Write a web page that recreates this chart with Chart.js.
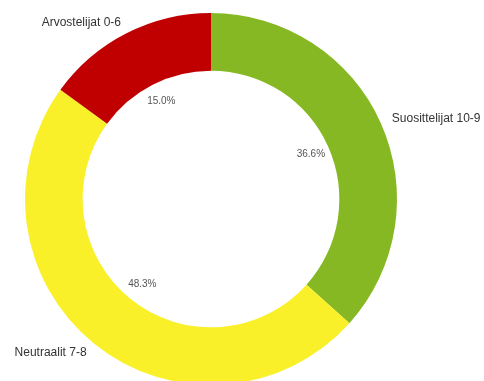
<!DOCTYPE html>
<html>
<head>
<meta charset="utf-8">
<script src="https://cdn.jsdelivr.net/npm/chart.js@4/dist/chart.umd.min.js"></script>
<style>
  html, body { margin: 0; padding: 0; background: #fff; overflow: hidden; }
  #wrap { width: 484px; height: 400px; }
</style>
</head>
<body>
<div id="wrap"><canvas id="npsChart" width="484" height="400"></canvas></div>
<script>
var categories = ["Suosittelijat 10-9", "Neutraalit 7-8", "Arvostelijat 0-6"];
var shares = [36.6, 48.3, 15.0];
var sliceColors = ["#86B823", "#FAF02A", "#C00000"];

// category names outside the ring, percentages just inside the hole
var sliceLabels = {
    id: "sliceLabels",
    afterDatasetsDraw: function (chart) {
        var ctx = chart.ctx;
        var arcs = chart.getDatasetMeta(0).data;
        ctx.save();
        arcs.forEach(function (arc, i) {
            var p = arc.getProps(["x", "y", "startAngle", "endAngle", "outerRadius", "innerRadius"], true);
            var mid = (p.startAngle + p.endAngle) / 2;
            var cx = Math.cos(mid), cy = Math.sin(mid);

            ctx.font = "12px 'Liberation Sans', Arial, sans-serif";
            ctx.fillStyle = "#333";
            ctx.textBaseline = "middle";
            ctx.textAlign = cx >= 0 ? "left" : "right";
            var ro = p.outerRadius + 12;
            ctx.fillText(categories[i], p.x + cx * ro, p.y + cy * ro);

            ctx.font = "10px 'Liberation Sans', Arial, sans-serif";
            ctx.fillStyle = "#555";
            ctx.textAlign = "center";
            var ri = p.innerRadius - 19;
            ctx.fillText(shares[i].toFixed(1) + "%", p.x + cx * ri, p.y + cy * ri);
        });
        ctx.restore();
    }
};

new Chart(document.getElementById("npsChart").getContext("2d"), {
    type: "doughnut",
    data: {
        labels: categories,
        datasets: [
            {
                data: shares,
                backgroundColor: sliceColors,
                borderWidth: 0
            }
        ]
    },
    options: {
        responsive: false,
        animation: false,
        cutout: "69%",
        layout: {
            padding: { left: 25, right: 87, top: 13, bottom: 15 }
        },
        plugins: {
            legend: { display: false },
            tooltip: { enabled: false }
        }
    },
    plugins: [sliceLabels]
});
</script>
</body>
</html>
